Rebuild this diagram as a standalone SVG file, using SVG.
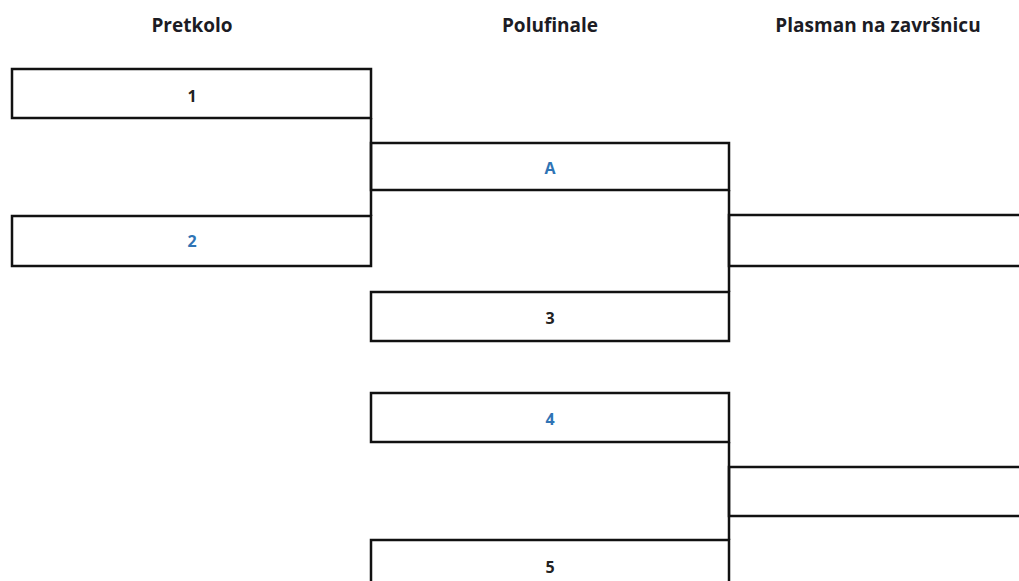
<svg xmlns="http://www.w3.org/2000/svg" width="1019" height="581" viewBox="0 0 1019 581">
<style>
.box{fill:#fff;stroke:#111;stroke-width:2.5}
.hdr{font-family:"Open Sans","Liberation Sans",sans-serif;font-weight:bold;font-size:19px;fill:#1c1c24;text-anchor:middle}
.lbl{font-family:"Open Sans","Liberation Sans",sans-serif;font-weight:bold;font-size:16px;fill:#222;text-anchor:middle}
.blue{fill:#2f74b5}
.conn{fill:none;stroke:#111;stroke-width:2.5}
</style>
<rect width="1019" height="581" fill="#fff"/>
<g id="headers">
<text class="hdr" x="192" y="32">Pretkolo</text>
<text class="hdr" x="550" y="32">Polufinale</text>
<text class="hdr" x="878" y="32">Plasman na završnicu</text>
</g>
<g id="node-1"><rect class="box" x="12" y="69" width="359" height="49"/><text class="lbl" x="192" y="102">1</text></g>
<g id="node-2"><rect class="box" x="12" y="216" width="359" height="50"/><text class="lbl blue" x="192" y="247">2</text></g>
<g id="node-A"><rect class="box" x="371" y="143" width="358" height="47"/><text class="lbl blue" x="550" y="174">A</text></g>
<g id="node-3"><rect class="box" x="371" y="292" width="358" height="49"/><text class="lbl" x="550" y="324">3</text></g>
<g id="node-4"><rect class="box" x="371" y="393" width="358" height="49"/><text class="lbl blue" x="550" y="425">4</text></g>
<g id="node-5"><rect class="box" x="371" y="540" width="358" height="60"/><text class="lbl" x="550" y="573">5</text></g>
<g id="node-final1"><rect class="box" x="729" y="215" width="300" height="51"/></g>
<g id="node-final2"><rect class="box" x="729" y="467" width="300" height="49"/></g>
<g id="connectors">
<path class="conn" d="M371,118 V216"/>
<path class="conn" d="M729,190 V292"/>
<path class="conn" d="M729,442 V540"/>
</g>
</svg>
